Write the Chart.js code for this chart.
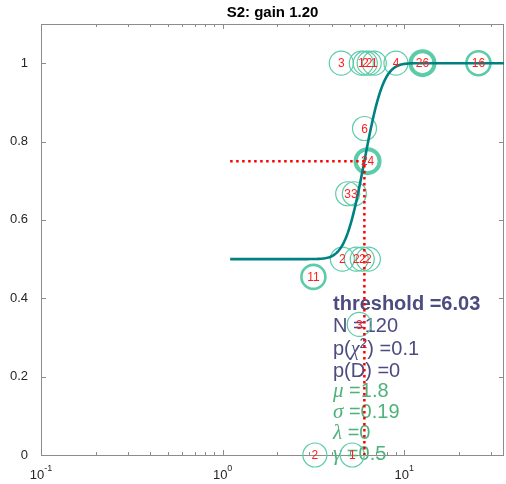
<!DOCTYPE html>
<html>
<head>
<meta charset="utf-8">
<script src="https://cdn.jsdelivr.net/npm/chart.js@4/dist/chart.umd.min.js"></script>
<style>
  html, body { margin: 0; padding: 0; background: #fff; }
  #wrap { width: 506px; height: 484px; }
</style>
</head>
<body>
<div id="wrap"><canvas id="chart" width="506" height="484"></canvas></div>
<script>
// ===== DATOS =====
// niveles de estímulo, proporción correcta y nº de ensayos por nivel
const stimLevels  = [4.50, 5.80, 6.10, 6.41, 6.84, 9.0, 12.6, 25.6, 6.04, 6.28, 4.88, 5.31, 4.56, 5.44, 5.87, 6.34, 3.16, 5.65, 3.22, 5.17];
const propCorrect = [1, 1, 1, 1, 1, 1, 1, 1, 0.8333, 0.75, 0.6667, 0.6667, 0.5, 0.5, 0.5, 0.5, 0.4545, 0.3333, 0, 0];
const nTrials     = [3, 1, 2, 2, 1, 4, 26, 16, 6, 24, 3, 3, 2, 2, 2, 2, 11, 3, 2, 1];

// parámetros del ajuste (gaussiana acumulada sobre ln x)
const threshold = 6.03;
const fitMu = 1.8, fitSigma = 0.19, fitLambda = 0, fitGamma = 0.5;
const nTotal = 120, pChi2 = 0.1, pDev = 0;
const curveFrom = 1.1, curveTo = 35.4, curveSteps = 240;

const yTicks = [0, 0.2, 0.4, 0.6, 0.8, 1];
const xDecades = [0.1, 1, 10];
const xMinor = [0.2, 0.3, 0.4, 0.5, 0.6, 0.7, 0.8, 0.9, 2, 3, 4, 5, 6, 7, 8, 9, 20, 30];

const TEAL = 'rgb(0,128,128)';
const MARKER = 'rgb(92,204,168)';
const DARK = 'rgb(76,76,128)';
const GREEN = 'rgb(78,178,122)';
const AXIS = '#8c8c8c';

// ===== FUNCIÓN PSICOMÉTRICA =====
function erf(x) {
    const s = x < 0 ? -1 : 1; x = Math.abs(x);
    const t = 1 / (1 + 0.3275911 * x);
    const y = 1 - (((((1.061405429 * t - 1.453152027) * t) + 1.421413741) * t - 0.284496736) * t + 0.254829592) * t * Math.exp(-x * x);
    return s * y;
}
function psych(x) {
    const m = Math.log(threshold); // umbral en 0.75
    const F = 0.5 * (1 + erf((Math.log(x) - m) / (fitSigma * Math.SQRT2)));
    return fitGamma + (1 - fitGamma - fitLambda) * F;
}
const curve = [];
for (let i = 0; i <= curveSteps; i++) {
    const x = Math.exp(Math.log(curveFrom) + (Math.log(curveTo) - Math.log(curveFrom)) * i / curveSteps);
    curve.push({ x, y: psych(x) });
}

const points = stimLevels.map((x, i) => ({ x, y: propCorrect[i] }));
const widths = nTrials.map(n => n >= 24 ? 4 : n >= 11 ? 2.6 : 1.2);

// ===== PLUGIN: marco, ticks, título, textos =====
const decor = {
    id: 'decor',
    beforeDatasetsDraw(chart) {
        const ctx = chart.ctx;
        const xs = chart.scales.x, ys = chart.scales.y;
        const a = chart.chartArea;
        ctx.save();
        // marco
        ctx.strokeStyle = AXIS; ctx.lineWidth = 1;
        ctx.strokeRect(a.left + 0.5, a.top + 0.5, a.right - a.left - 1, a.bottom - a.top);
        // ticks y (hacia dentro, ambos lados)
        ctx.beginPath();
        yTicks.forEach(v => {
            const py = Math.round(ys.getPixelForValue(v)) + 0.5;
            ctx.moveTo(a.left, py); ctx.lineTo(a.left + 5, py);
            ctx.moveTo(a.right, py); ctx.lineTo(a.right - 5, py);
        });
        // ticks x
        xDecades.concat(xMinor).forEach(v => {
            const px = Math.round(xs.getPixelForValue(v)) + 0.5;
            const len = xDecades.includes(v) ? 5 : 3;
            ctx.moveTo(px, a.bottom); ctx.lineTo(px, a.bottom - len);
            ctx.moveTo(px, a.top); ctx.lineTo(px, a.top + len);
        });
        ctx.stroke();

        // etiquetas x: 10^n
        ctx.fillStyle = '#262626';
        ctx.textBaseline = 'alphabetic';
        xDecades.forEach(v => {
            const px = xs.getPixelForValue(v);
            const base = '10', sup = String(Math.round(Math.log10(v)));
            ctx.font = '13px "Liberation Sans", Arial, sans-serif';
            const w1 = ctx.measureText(base).width;
            ctx.font = '9px "Liberation Sans", Arial, sans-serif';
            const w2 = ctx.measureText(sup).width;
            const x0 = px - (w1 + w2) / 2;
            ctx.font = '13px "Liberation Sans", Arial, sans-serif';
            ctx.textAlign = 'left';
            ctx.fillText(base, x0, 479);
            ctx.font = '9px "Liberation Sans", Arial, sans-serif';
            ctx.fillText(sup, x0 + w1, 471);
        });

        // título
        ctx.fillStyle = '#000';
        ctx.font = 'bold 15px "Liberation Sans", Arial, sans-serif';
        ctx.textAlign = 'center';
        ctx.fillText('S2: gain 1.20', (a.left + a.right) / 2, 17);

        // bloque de resultados del ajuste
        const sans = s => s + 'px "Liberation Sans", Arial, sans-serif';
        const ital = s => 'italic ' + s + 'px "Liberation Serif", "DejaVu Serif", serif';
        const lines = [
            { y: 310, color: DARK, parts: [['threshold =' + threshold.toFixed(2), 'bold ' + sans(20), 0]] },
            { y: 331.5, color: DARK, parts: [['N =' + nTotal, sans(20), 0]] },
            { y: 355, color: DARK, parts: [['p(', sans(20), 0], ['\u03c7', ital(20), 0], ['2', sans(14), -7], [') =' + pChi2, sans(20), 0]] },
            { y: 376.5, color: DARK, parts: [['p(D) =' + pDev, sans(20), 0]] },
            { y: 397, color: GREEN, parts: [['\u03bc', ital(21), 0], [' =' + fitMu, sans(20), 0]] },
            { y: 418, color: GREEN, parts: [['\u03c3', ital(21), 0], [' =' + fitSigma, sans(20), 0]] },
            { y: 438.5, color: GREEN, parts: [['\u03bb', ital(21), 0], [' =' + fitLambda, sans(20), 0]] },
            { y: 460, color: GREEN, parts: [['\u03b3', ital(21), 0], [' =' + fitGamma, sans(20), 0]] }
        ];
        ctx.textAlign = 'left';
        lines.forEach(l => {
            let x = 333;
            ctx.fillStyle = l.color;
            l.parts.forEach(([t, f, dy]) => {
                ctx.font = f;
                ctx.fillText(t, x, l.y + dy);
                x += ctx.measureText(t).width;
            });
        });
        ctx.restore();
    },
    afterDatasetsDraw(chart) {
        // nº de ensayos dentro de cada círculo
        const ctx = chart.ctx;
        const meta = chart.getDatasetMeta(2);
        ctx.save();
        ctx.fillStyle = 'rgb(255,30,30)';
        ctx.font = '12px "Liberation Sans", Arial, sans-serif';
        ctx.textAlign = 'center';
        ctx.textBaseline = 'middle';
        meta.data.forEach((pt, i) => ctx.fillText(String(nTrials[i]), pt.x, pt.y + 1));
        ctx.restore();
    }
};

function noPad(s) {
    s.paddingLeft = 0; s.paddingRight = 0; s.paddingTop = 0; s.paddingBottom = 0;
}

new Chart(document.getElementById('chart'), {
    type: 'scatter',
    data: {
        datasets: [
            { // líneas del umbral
                type: 'line',
                data: [{ x: curveFrom, y: 0.75 }, { x: threshold, y: 0.75 }, { x: threshold, y: 0 }],
                borderColor: 'rgb(255,0,0)', borderWidth: 2.5, borderDash: [2.5, 3.5],
                pointRadius: 0, fill: false, tension: 0
            },
            { // curva ajustada
                type: 'line',
                data: curve,
                borderColor: TEAL, borderWidth: 2.6, pointRadius: 0, fill: false, tension: 0
            },
            { // datos
                data: points,
                pointRadius: 12, pointHoverRadius: 12,
                pointBackgroundColor: 'rgba(0,0,0,0)',
                pointBorderColor: MARKER,
                pointBorderWidth: widths,
                clip: false
            }
        ]
    },
    options: {
        responsive: false,
        animation: false,
        devicePixelRatio: 1,
        layout: { autoPadding: false, padding: { top: 24, right: 2, left: 0, bottom: 0 } },
        plugins: { legend: { display: false }, title: { display: false }, tooltip: { enabled: false } },
        events: [],
        scales: {
            x: {
                type: 'logarithmic', min: 0.1, max: 35.4,
                grid: { display: false }, border: { display: false },
                ticks: { display: false },
                afterFit: s => { s.height = 29; noPad(s); }
            },
            y: {
                type: 'linear', min: 0, max: 1.1,
                grid: { display: false }, border: { display: false },
                afterBuildTicks: s => { s.ticks = yTicks.map(v => ({ value: v })); },
                ticks: {
                    color: '#262626', padding: 5,
                    font: { family: '"Liberation Sans", Arial, sans-serif', size: 13 },
                    callback: v => String(v)
                },
                afterFit: s => { s.width = 41; noPad(s); }
            }
        }
    },
    plugins: [decor]
});
</script>
</body>
</html>
